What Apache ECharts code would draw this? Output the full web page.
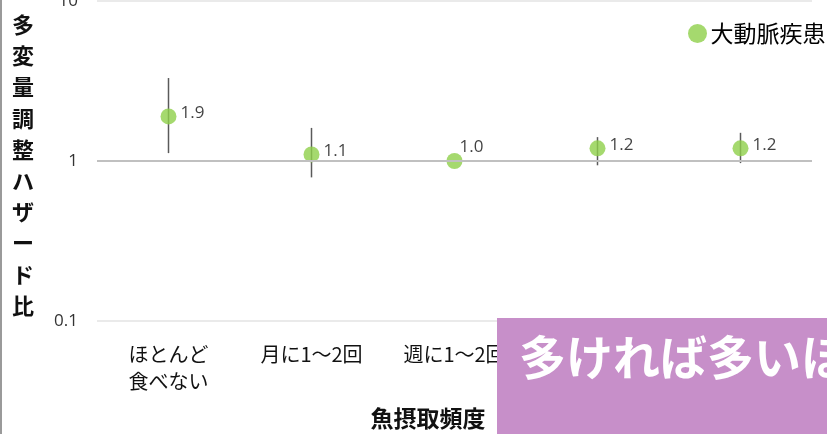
<!DOCTYPE html>
<html>
<head>
<meta charset="utf-8">
<script src="https://cdn.jsdelivr.net/npm/echarts@6/dist/echarts.min.js"></script>
<style>
  html, body { margin: 0; padding: 0; background: #fff; }
  #chart { width: 827px; height: 434px; }
</style>
</head>
<body>
<div id="chart"></div>
<script>
// Fish intake frequency vs. multivariable-adjusted hazard ratio (aortic disease)
const categories = ['ほとんど\n食べない', '月に1～2回', '週に1～2回', '週に3～4回', 'ほぼ毎日'];
const hazardRatio = [1.9, 1.1, 1.0, 1.2, 1.2];
const ciLower = [1.12, 0.79, 1.0, 0.94, 0.97];
const ciUpper = [3.3, 1.61, 1.0, 1.41, 1.5];
const seriesName = '大動脈疾患';
const yTitle = '多変量調整ハザード比';
const xTitle = '魚摂取頻度';
const noteText = '多ければ多いほど';

const FONT = '"Noto Sans CJK JP", "Noto Sans", sans-serif';
const NUM_FONT = '"Open Sans", "Liberation Sans", sans-serif';
const GREEN = '#8fd04a';

const chart = echarts.init(document.getElementById('chart'), null, { renderer: 'canvas' });

const errorData = categories.map((c, i) => [i, ciLower[i], ciUpper[i]]);

const pointData = hazardRatio.map((v, i) => {
  const item = { value: [i, v] };
  if (i === 2) {
    // reference category: label sits above-right of the marker
    item.label = { position: [13, -11] };
  }
  return item;
});

chart.setOption({
  animation: false,
  textStyle: { fontFamily: FONT },
  grid: { left: 97, right: 15, top: 1, bottom: 113, outerBoundsMode: 'none' },
  legend: {
    left: 683, top: 17,
    itemWidth: 20, itemHeight: 19,
    itemStyle: { color: GREEN },
    icon: 'circle',
    textStyle: { fontSize: 23, color: '#000', fontFamily: FONT, padding: [0, 0, 0, -2] },
    data: [seriesName]
  },
  xAxis: {
    type: 'category',
    data: categories,
    boundaryGap: true,
    axisLine: { show: false },
    axisTick: { show: false },
    axisLabel: {
      interval: 0, margin: 20,
      fontSize: 20, lineHeight: 27, color: '#111',
      fontFamily: FONT
    },
    splitLine: { show: false }
  },
  yAxis: {
    type: 'log',
    logBase: 10,
    min: 0.1, max: 10,
    axisLine: { show: false },
    axisTick: { show: false },
    minorTick: { show: false },
    axisLabel: {
      fontSize: 17, color: '#333', margin: 19,
      fontFamily: NUM_FONT,
      formatter: v => (v < 1 ? v.toFixed(1) : String(Math.round(v)))
    },
    splitLine: { show: true, lineStyle: { color: '#e3e3e3', width: 1.5 } }
  },
  series: [
    {
      type: 'custom',
      name: 'ci',
      silent: true,
      z: 2,
      data: errorData,
      renderItem: (params, api) => {
        const lo = api.value(1), hi = api.value(2);
        if (lo === hi) return null;
        const p1 = api.coord([api.value(0), lo]);
        const p2 = api.coord([api.value(0), hi]);
        return {
          type: 'line',
          shape: { x1: p1[0], y1: p1[1], x2: p2[0], y2: p2[1] },
          style: { stroke: '#5a5a5a', lineWidth: 1.5 }
        };
      }
    },
    {
      type: 'scatter',
      name: seriesName,
      z: 3,
      symbol: 'circle',
      symbolSize: 16,
      itemStyle: { color: GREEN },
      data: pointData,
      label: {
        show: true,
        position: 'right',
        distance: 4,
        offset: [0, -3],
        fontSize: 17,
        color: '#111',
        fontFamily: NUM_FONT,
        formatter: p => p.value[1].toFixed(1)
      },
      markLine: {
        silent: true,
        symbol: 'none',
        label: { show: false },
        lineStyle: { color: '#c0c0c0', width: 2, type: 'solid' },
        data: [{ yAxis: 1 }]
      }
    }
  ],
  graphic: [
    {
      type: 'rect',
      shape: { x: 0, y: 0, width: 2, height: 434 },
      style: { fill: '#9a9a9a' },
      silent: true
    },
    {
      type: 'text',
      x: 23, y: 9,
      style: {
        text: yTitle.split('').join('\n'),
        font: 'bold 22px ' + FONT,
        lineHeight: 31.2,
        fill: '#111',
        align: 'center'
      },
      silent: true
    },
    {
      type: 'text',
      x: 428, y: 418,
      style: {
        text: xTitle,
        font: 'bold 23px ' + FONT,
        fill: '#111',
        align: 'center',
        verticalAlign: 'middle'
      },
      silent: true
    },
    {
      type: 'rect',
      shape: { x: 497, y: 318, width: 340, height: 120 },
      style: { fill: '#c78fc9' },
      z: 100,
      silent: true
    },
    {
      type: 'text',
      x: 519, y: 357,
      z: 101,
      style: {
        text: noteText,
        font: 'bold 47px ' + FONT,
        fill: '#ffffff',
        align: 'left',
        verticalAlign: 'middle'
      },
      silent: true
    }
  ]
});
</script>
</body>
</html>
